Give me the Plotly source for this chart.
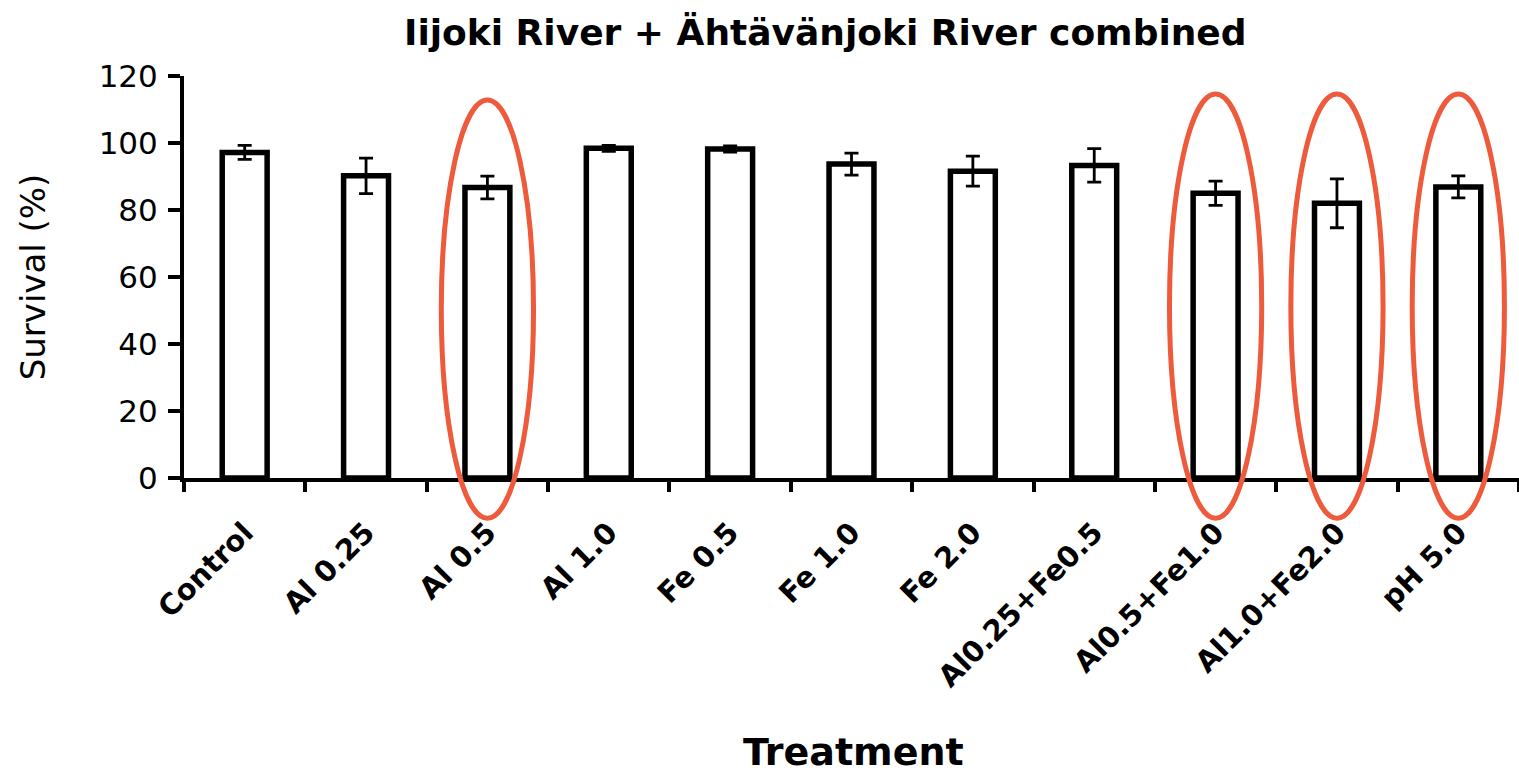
import plotly.graph_objects as go

categories = ["Control", "Al 0.25", "Al 0.5", "Al 1.0", "Fe 0.5", "Fe 1.0", "Fe 2.0",
              "Al0.25+Fe0.5", "Al0.5+Fe1.0", "Al1.0+Fe2.0", "pH 5.0"]
survival = [97.2, 90.2, 86.7, 98.4, 98.2, 93.7, 91.6, 93.3, 85.0, 82.0, 86.9]
error = [2.1, 5.3, 3.4, 0.9, 0.9, 3.3, 4.5, 5.0, 3.6, 7.3, 3.3]
highlighted = ["Al 0.5", "Al0.5+Fe1.0", "Al1.0+Fe2.0", "pH 5.0"]
y_ticks = [0, 20, 40, 60, 80, 100, 120]

FONT = "DejaVu Sans"

fig = go.Figure()
fig.add_trace(go.Bar(
    x=categories, y=survival,
    marker=dict(color="white", line=dict(color="black", width=5.5)),
    error_y=dict(type="data", array=error, visible=True, color="black",
                 thickness=2.8, width=7),
    width=0.37,
))

n = len(categories)
shapes = []
for k, cat in enumerate(highlighted):
    i = categories.index(cat)
    cx = (i + 0.5) / n
    hw = 0.38 / n
    shapes.append(dict(type="circle", xref="paper", yref="paper",
                       x0=cx - hw, x1=cx + hw, y0=-0.1, y1=0.94 if k == 0 else 0.955,
                       line=dict(color="#EE5A3C", width=5), layer="above"))

fig.update_layout(
    width=1519, height=774,
    paper_bgcolor="white", plot_bgcolor="white",
    margin=dict(l=184, r=0, t=76, b=296),
    showlegend=False,
    shapes=shapes,
    font=dict(family=FONT, color="black"),
    annotations=[
        dict(text="<b>Iijoki River + Ähtävänjoki River combined</b>",
             xref="paper", yref="paper", x=(825 - 184) / 1335, y=1.0,
             yshift=44, xanchor="center", yanchor="middle", showarrow=False,
             font=dict(size=36, family=FONT, color="black")),
        dict(text="<b>Treatment</b>",
             xref="paper", yref="paper", x=(853 - 184) / 1335, y=(478 - 752) / 402,
             xanchor="center", yanchor="middle", showarrow=False,
             font=dict(size=38, family=FONT, color="black")),
    ],
)
fig.update_xaxes(
    range=[-0.5, n - 0.5],
    showline=True, linecolor="black", linewidth=4,
    ticks="outside", ticklen=10, tickwidth=4, tickcolor="black",
    tickson="boundaries",
    tickangle=-45,
    ticklabelstandoff=22,
    tickfont=dict(size=29, family=FONT, color="black", weight="bold"),
    showgrid=False, zeroline=False,
)
fig.update_yaxes(
    range=[0, 120], tickvals=y_ticks,
    showline=True, linecolor="black", linewidth=4,
    ticks="outside", ticklen=12, tickwidth=4, tickcolor="black",
    ticklabelstandoff=4,
    tickfont=dict(size=31, family=FONT, color="black"),
    title=dict(text="Survival (%)", font=dict(size=34, family=FONT), standoff=44),
    showgrid=False, zeroline=False,
)

fig.write_html("out.html")
